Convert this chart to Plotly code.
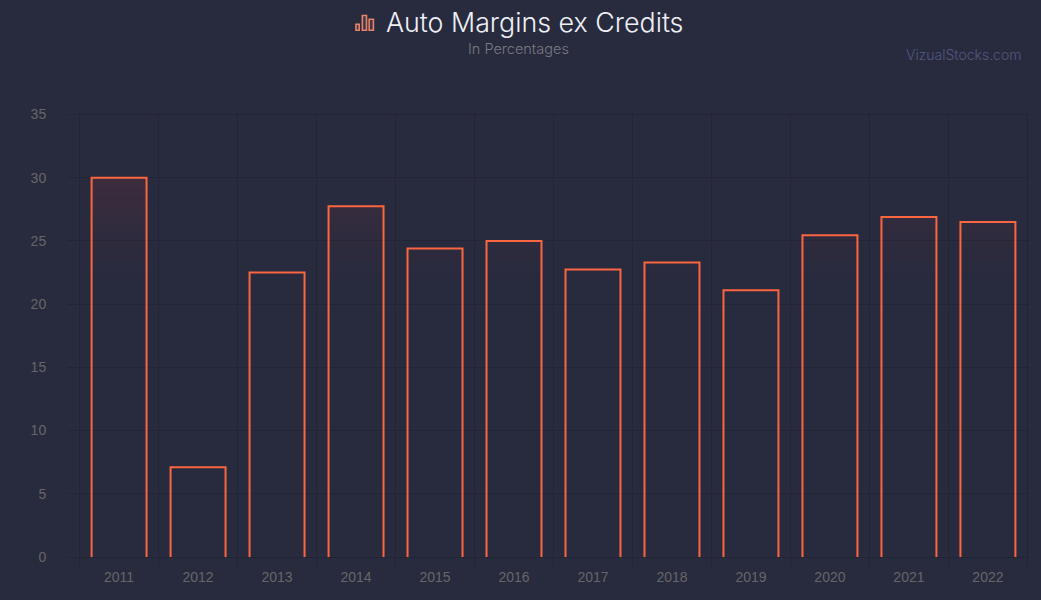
import plotly.graph_objects as go

# Yearly margin figures, in percent
years = [2011, 2012, 2013, 2014, 2015, 2016, 2017, 2018, 2019, 2020, 2021, 2022]
margins = [30.0, 7.1, 22.5, 27.75, 24.4, 25.0, 22.75, 23.3, 21.1, 25.45, 26.9, 26.5]

TITLE = "Auto Margins ex Credits"
SUBTITLE = "In Percentages"
BRAND = "VizualStocks.com"

BG = "#282b3e"
GRID = "#232536"
ACCENT = "#fb6640"
TICK_TEXT = "#666668"
BAR_HALF = 0.348

# The axis ranges run a hair past the outer gridlines so those lines stay drawn
X_RANGE = [2010.48, 2022.52]
Y_RANGE = [0, 35.12]

PLOT_L, PLOT_R, PLOT_T, PLOT_B = 77.9, 1028.6, 112.5, 557.5
PLOT_W, PLOT_H = PLOT_R - PLOT_L, PLOT_B - PLOT_T


def px_x(x):
    return (x - PLOT_L) / PLOT_W


def px_y(y):
    return 1 + (PLOT_T - y) / PLOT_H


fig = go.Figure()

# Soft tint in the upper part of each bar: stacked thin bands that fade with height
band_step = 0.5
band_low, band_high = 21.0, 35.0
n_bands = int((band_high - band_low) / band_step)
for k in range(n_bands):
    lo = band_low + k * band_step
    hi = lo + band_step
    xs, heights = [], []
    for yr, v in zip(years, margins):
        if v > lo:
            xs.append(yr)
            heights.append(min(v, hi) - lo)
    if not xs:
        continue
    alpha = 0.115 * min(1.0, (lo - band_low) / (30.0 - band_low)) ** 1.3
    fig.add_trace(go.Bar(
        x=xs, y=heights, base=lo, width=BAR_HALF * 2,
        marker=dict(color=f"rgba(235,60,70,{alpha:.4f})", line=dict(width=0)),
        showlegend=False, hoverinfo="skip",
    ))

# Bar outlines, left open along the baseline
ox, oy = [], []
for yr, v in zip(years, margins):
    ox += [yr - BAR_HALF, yr - BAR_HALF, yr + BAR_HALF, yr + BAR_HALF, None]
    oy += [0, v, v, 0, None]
fig.add_trace(go.Scatter(
    x=ox, y=oy, mode="lines",
    line=dict(color=ACCENT, width=2, shape="linear"),
    showlegend=False, hoverinfo="skip",
))

fig.update_layout(
    width=1041, height=600,
    autosize=False,
    paper_bgcolor=BG, plot_bgcolor=BG,
    margin=dict(l=PLOT_L, r=1041 - PLOT_R, t=PLOT_T, b=600 - PLOT_B),
    barmode="overlay",
    font=dict(family="Liberation Sans, Arial, sans-serif", size=14, color=TICK_TEXT),
    xaxis=dict(
        range=X_RANGE,
        tickmode="array", tickvals=years, ticktext=[str(y) for y in years],
        ticks="", showgrid=False, zeroline=False,
        showline=False,
        minor=dict(tick0=2010.5, dtick=1, showgrid=True, gridcolor=GRID, gridwidth=1,
                   ticks="outside", ticklen=9, tickcolor=GRID, tickwidth=1),
        tickfont=dict(size=14, color=TICK_TEXT),
        ticklabelstandoff=10,
    ),
    yaxis=dict(
        range=Y_RANGE, tickmode="linear", tick0=0, dtick=5,
        showgrid=True, gridcolor=GRID, gridwidth=1, zeroline=True, zerolinecolor=GRID, zerolinewidth=1,
        showline=False,
        ticks="outside", ticklen=9, tickcolor=GRID, tickwidth=1,
        tickfont=dict(size=14, color=TICK_TEXT),
        ticklabelstandoff=19,
    ),
    annotations=[
        dict(text=TITLE, xref="paper", yref="paper", x=px_x(534), y=px_y(21),
             xanchor="center", yanchor="middle", showarrow=False,
             font=dict(family="Inter, sans-serif", size=26.8, color="#eef0f5", weight=300)),
        dict(text=SUBTITLE, xref="paper", yref="paper", x=px_x(518.5), y=px_y(47.5),
             xanchor="center", yanchor="middle", showarrow=False,
             font=dict(family="Inter, sans-serif", size=14.5, color="#787982", weight=300)),
        dict(text=BRAND, xref="paper", yref="paper", x=px_x(1022.5), y=px_y(53.5),
             xanchor="right", yanchor="middle", showarrow=False,
             font=dict(family="Inter, sans-serif", size=14, color="#515880", weight=300)),
    ],
)

# Small bar-chart glyph beside the title
for x0, x1, y0, y1 in [(355.8, 359, 23.5, 29.5), (362.2, 366.3, 14.8, 29.5), (369, 373.2, 18.5, 29.5)]:
    fig.add_shape(type="rect", xref="paper", yref="paper",
                  x0=px_x(x0), x1=px_x(x1), y0=px_y(y1), y1=px_y(y0),
                  line=dict(color="#e8826a", width=1.6), fillcolor="rgba(232,130,106,0.12)")

fig.write_html("out.html")
